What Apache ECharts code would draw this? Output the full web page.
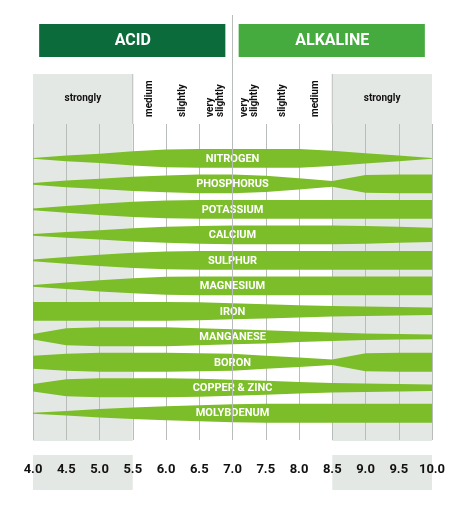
<!DOCTYPE html><html><head><meta charset="utf-8">
<script src="https://cdn.jsdelivr.net/npm/echarts@6/dist/echarts.min.js"></script>
<style>html,body{margin:0;padding:0;background:#fff}#c{width:474px;height:517px}</style></head><body><div id="c"></div>
<script>
const phPoints=[4.0,4.5,5.0,5.5,6.0,6.5,7.0,7.5,8.0,8.5,9.0,9.5,10.0];
const tickLabels=['4.0','4.5','5.0','5.5','6.0','6.5','7.0','7.5','8.0','8.5','9.0','9.5','10.0'];
const nutrients=['NITROGEN','PHOSPHORUS','POTASSIUM','CALCIUM','SULPHUR','MAGNESIUM','IRON','MANGANESE','BORON','COPPER & ZINC','MOLYBDENUM'];
const availability=[
[0.05,0.3,0.5,0.75,0.95,1,1,1,1,0.8,0.55,0.3,0.05],
[0.1,0.35,0.55,0.75,0.9,1,1,0.85,0.6,0.3,0.95,1,1],
[0.1,0.35,0.6,0.8,0.95,1,1,1,1,1,1,1,1],
[0.1,0.3,0.5,0.7,0.85,0.95,1,1,1,1,0.95,0.85,0.75],
[0.1,0.35,0.6,0.8,0.95,1,1,1,1,1,1,1,1],
[0.1,0.35,0.6,0.8,0.95,1,1,1,1,1,1,1,1],
[1,1,1,1,1,0.95,0.85,0.75,0.65,0.55,0.5,0.45,0.4],
[0.3,0.9,1,1,1,0.9,0.8,0.7,0.55,0.45,0.35,0.3,0.25],
[0.7,0.9,1,1,1,0.95,0.9,0.7,0.5,0.3,0.95,1,1],
[0.4,0.9,1,1,1,0.95,0.85,0.75,0.6,0.5,0.45,0.4,0.35],
[0.05,0.25,0.45,0.6,0.75,0.85,0.95,1,1,1,1,1,1]
];
const topLabels=[['strongly',4.75],['medium',5.75],['slightly',6.25],['very\nslightly',6.75],['very\nslightly',7.25],['slightly',7.75],['medium',8.25],['strongly',9.25]];
const groups=[['ACID',4.1,6.9,'#0b6b3a'],['ALKALINE',7.1,9.9,'#46ab3e']];
const BAND='#7cbd2a';
const chart=echarts.init(document.getElementById('c'));
const data=nutrients.map((n,i)=>[i]);
chart.setOption({
animation:false,
grid:{left:33,right:42,top:124,bottom:77},
xAxis:{type:'value',min:4,max:10,interval:0.5,axisLine:{show:false},axisTick:{show:false},
 splitLine:{show:true,lineStyle:{color:'#b9bdb9',width:1}},
 axisLabel:{formatter:v=>tickLabels[Math.round((v-4)*2)],color:'#111',fontWeight:'bold',fontSize:13,fontFamily:'Roboto',margin:23}},
yAxis:{type:'value',inverse:true,min:-1.35,max:11.05,show:false},
series:[{type:'custom',coordinateSystem:'cartesian2d',data:data,
 renderItem:function(params,api){
  const i=api.value(0); const av=availability[i];
  const top=[],bot=[];
  for(let k=0;k<phPoints.length;k++){
    const h=av[k]*0.37;
    top.push(api.coord([phPoints[k],i-h]));
    bot.unshift(api.coord([phPoints[k],i+h]));
  }
  const c=api.coord([7,i]);
  return {type:'group',children:[
   {type:'polygon',shape:{points:top.concat(bot)},style:{fill:BAND}},
   {type:'text',x:c[0],y:c[1]+0.5,style:{text:nutrients[i],fill:'#fff',font:'bold 11px Roboto',align:'center',verticalAlign:'middle'}}
  ]};
 }}]
});
function px(v){return chart.convertToPixel({gridIndex:0},[v,0])[0];}
const g=[];
[[4,5.5],[8.5,10]].forEach(r=>{
 g.push({type:'rect',z:-10,shape:{x:px(r[0]),y:74,width:px(r[1])-px(r[0]),height:416},style:{fill:'#e4e8e4'}});
});
g.push({type:'rect',z:-5,shape:{x:0,y:441,width:474,height:14},style:{fill:'#fff'}});
g.push({type:'rect',z:-5,shape:{x:px(5.5)+1,y:74,width:px(8.5)-px(5.5)-1,height:50},style:{fill:'#fff'}});
g.push({type:'line',z:5,shape:{x1:px(7),y1:15,x2:px(7),y2:440},style:{stroke:'#b9bdb9',lineWidth:1}});
[5.5,8.5].forEach(v=>g.push({type:'line',z:5,shape:{x1:px(v),y1:74,x2:px(v),y2:124},style:{stroke:'#b9bdb9',lineWidth:1}}));
groups.forEach(gr=>{
 g.push({type:'rect',shape:{x:px(gr[1])-0.5,y:24,width:px(gr[2])-px(gr[1]),height:33},style:{fill:gr[3]}});
 g.push({type:'text',x:(px(gr[1])+px(gr[2]))/2,y:41,style:{text:gr[0],fill:'#fff',font:'bold 16px Roboto',align:'center',verticalAlign:'middle'}});
});
topLabels.forEach(t=>{
 if(t[0]==='strongly') g.push({type:'text',x:px(t[1]),y:98,style:{text:t[0],fill:'#111',font:'bold 10px Roboto',align:'center',verticalAlign:'middle'}});
 else g.push({type:'text',x:px(t[1]),y:117,rotation:Math.PI/2,style:{text:t[0],fill:'#111',font:'bold 10px Roboto',align:'left',verticalAlign:'middle',lineHeight:10}});
});
chart.setOption({graphic:{elements:g}});
</script></body></html>
